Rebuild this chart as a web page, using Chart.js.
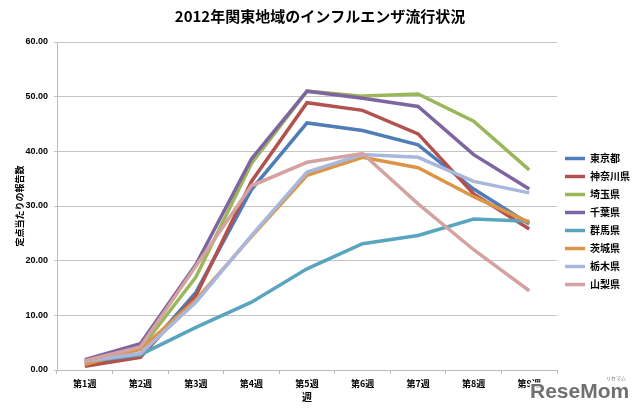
<!DOCTYPE html>
<html>
<head>
<meta charset="utf-8">
<script src="https://cdn.jsdelivr.net/npm/chart.js@4"></script>
<style>
  body { margin: 0; background: #fff; }
  #wrap { width: 640px; height: 412px; }
</style>
</head>
<body>
<div id="wrap"><canvas id="chart" width="640" height="412"></canvas></div>
<script>
const weeks = ['第1週', '第2週', '第3週', '第4週', '第5週', '第6週', '第7週', '第8週', '第9週'];
const prefectures = ['東京都', '神奈川県', '埼玉県', '千葉県', '群馬県', '茨城県', '栃木県', '山梨県'];

const tokyo     = [1.2, 2.6, 14.2, 33.0, 45.2, 43.8, 41.2, 33.1, 26.7];
const kanagawa  = [0.7, 2.3, 13.6, 34.5, 48.9, 47.5, 43.2, 32.2, 25.8];
const saitama   = [1.5, 3.8, 17.0, 37.8, 51.0, 50.1, 50.5, 45.5, 36.6];
const chiba     = [1.9, 4.8, 19.3, 38.6, 51.0, 49.7, 48.2, 39.4, 33.1];
const gunma     = [1.5, 2.8, 7.8, 12.4, 18.5, 23.1, 24.6, 27.6, 27.2];
const ibaraki   = [1.0, 3.8, 12.8, 24.4, 35.6, 38.9, 37.0, 31.7, 27.0];
const tochigi   = [1.6, 3.0, 12.4, 24.6, 36.2, 39.4, 38.9, 34.5, 32.4];
const yamanashi = [1.7, 4.2, 19.0, 33.7, 38.0, 39.6, 30.4, 22.0, 14.5];

const colors = ['#4f7db8', '#b2524e', '#9bb75b', '#7e65a0', '#5aa5be', '#de9447', '#a7b8dc', '#d4a3a1'];

const yTicks = [0, 10, 20, 30, 40, 50, 60];

const seriesData = [tokyo, kanagawa, saitama, chiba, gunma, ibaraki, tochigi, yamanashi];

Chart.defaults.font.family = "'Liberation Sans', 'Noto Sans CJK JP', sans-serif";
Chart.defaults.color = '#000';

// watermark in the lower right corner
const watermark = {
    id: 'watermark',
    afterDraw(chart) {
        const ctx = chart.ctx;
        ctx.save();
        ctx.font = "bold 21px 'Liberation Sans'";
        ctx.textBaseline = 'alphabetic';
        ctx.textAlign = 'left';
        ctx.lineWidth = 3;
        ctx.strokeStyle = '#fff';
        ctx.strokeText('ReseMom', 530, 398);
        ctx.fillStyle = '#707070';
        ctx.fillText('ReseMom', 530, 398);
        ctx.font = "5px 'Noto Sans CJK JP'";
        ctx.fillText('リセマム', 606, 380);
        ctx.restore();
    }
};

const datasets = prefectures.map((name, i) => ({
    label: name,
    data: seriesData[i],
    borderColor: colors[i],
    backgroundColor: colors[i],
    borderWidth: 3.5,
    pointRadius: 0,
    tension: 0,
    order: prefectures.length - i
}));

const ctx = document.getElementById('chart').getContext('2d');
new Chart(ctx, {
    type: 'line',
    data: { labels: weeks, datasets: datasets },
    plugins: [watermark],
    options: {
        responsive: false,
        animation: false,
        layout: { padding: { left: 0, right: 0, top: 0, bottom: 0 } },
        plugins: {
            title: {
                display: true,
                text: '2012年関東地域のインフルエンザ流行状況',
                font: { size: 15, weight: 'bold', family: "'Noto Sans CJK JP', sans-serif" },
                color: '#000',
                padding: { top: 7, bottom: 17 }
            },
            legend: {
                position: 'right',
                title: { display: true, text: ' ', font: { size: 10 }, padding: { top: 19, bottom: 0 } },
                labels: {
                    usePointStyle: true,
                    pointStyle: 'line',
                    pointStyleWidth: 20,
                    padding: 8,
                    font: { size: 10, weight: 'bold', family: "'Noto Sans CJK JP', sans-serif" },
                    color: '#000',
                    sort: (a, b) => a.datasetIndex - b.datasetIndex
                }
            },
            tooltip: { enabled: false }
        },
        scales: {
            x: {
                offset: true,
                grid: { display: true, offset: true, drawOnChartArea: false, tickLength: 4, color: '#bbb' },
                border: { color: '#bbb' },
                ticks: { padding: 4, font: { size: 9, weight: 'bold', family: "'Noto Sans CJK JP', sans-serif" }, maxRotation: 0 },
                title: {
                    display: true,
                    text: '週',
                    font: { size: 10, weight: 'bold', family: "'Noto Sans CJK JP', sans-serif" },
                    padding: { top: 0, bottom: 9 }
                },
                afterFit(scale) { scale.height = 42; }
            },
            y: {
                min: 0,
                max: 60,
                afterBuildTicks(scale) { scale.ticks = yTicks.map(v => ({ value: v })); },
                grid: { color: '#c4c4c4', tickLength: 3 },
                border: { color: '#bbb' },
                ticks: {
                    padding: 6,
                    font: { size: 9, weight: 'bold' },
                    callback: v => v.toFixed(2)
                },
                title: {
                    display: true,
                    text: '定点当たりの報告数',
                    font: { size: 9, weight: 'bold', family: "'Noto Sans CJK JP', sans-serif" },
                    padding: { top: 14, bottom: 0 }
                },
                afterFit(scale) { scale.width = 57; }
            }
        }
    }
});
</script>
</body>
</html>
